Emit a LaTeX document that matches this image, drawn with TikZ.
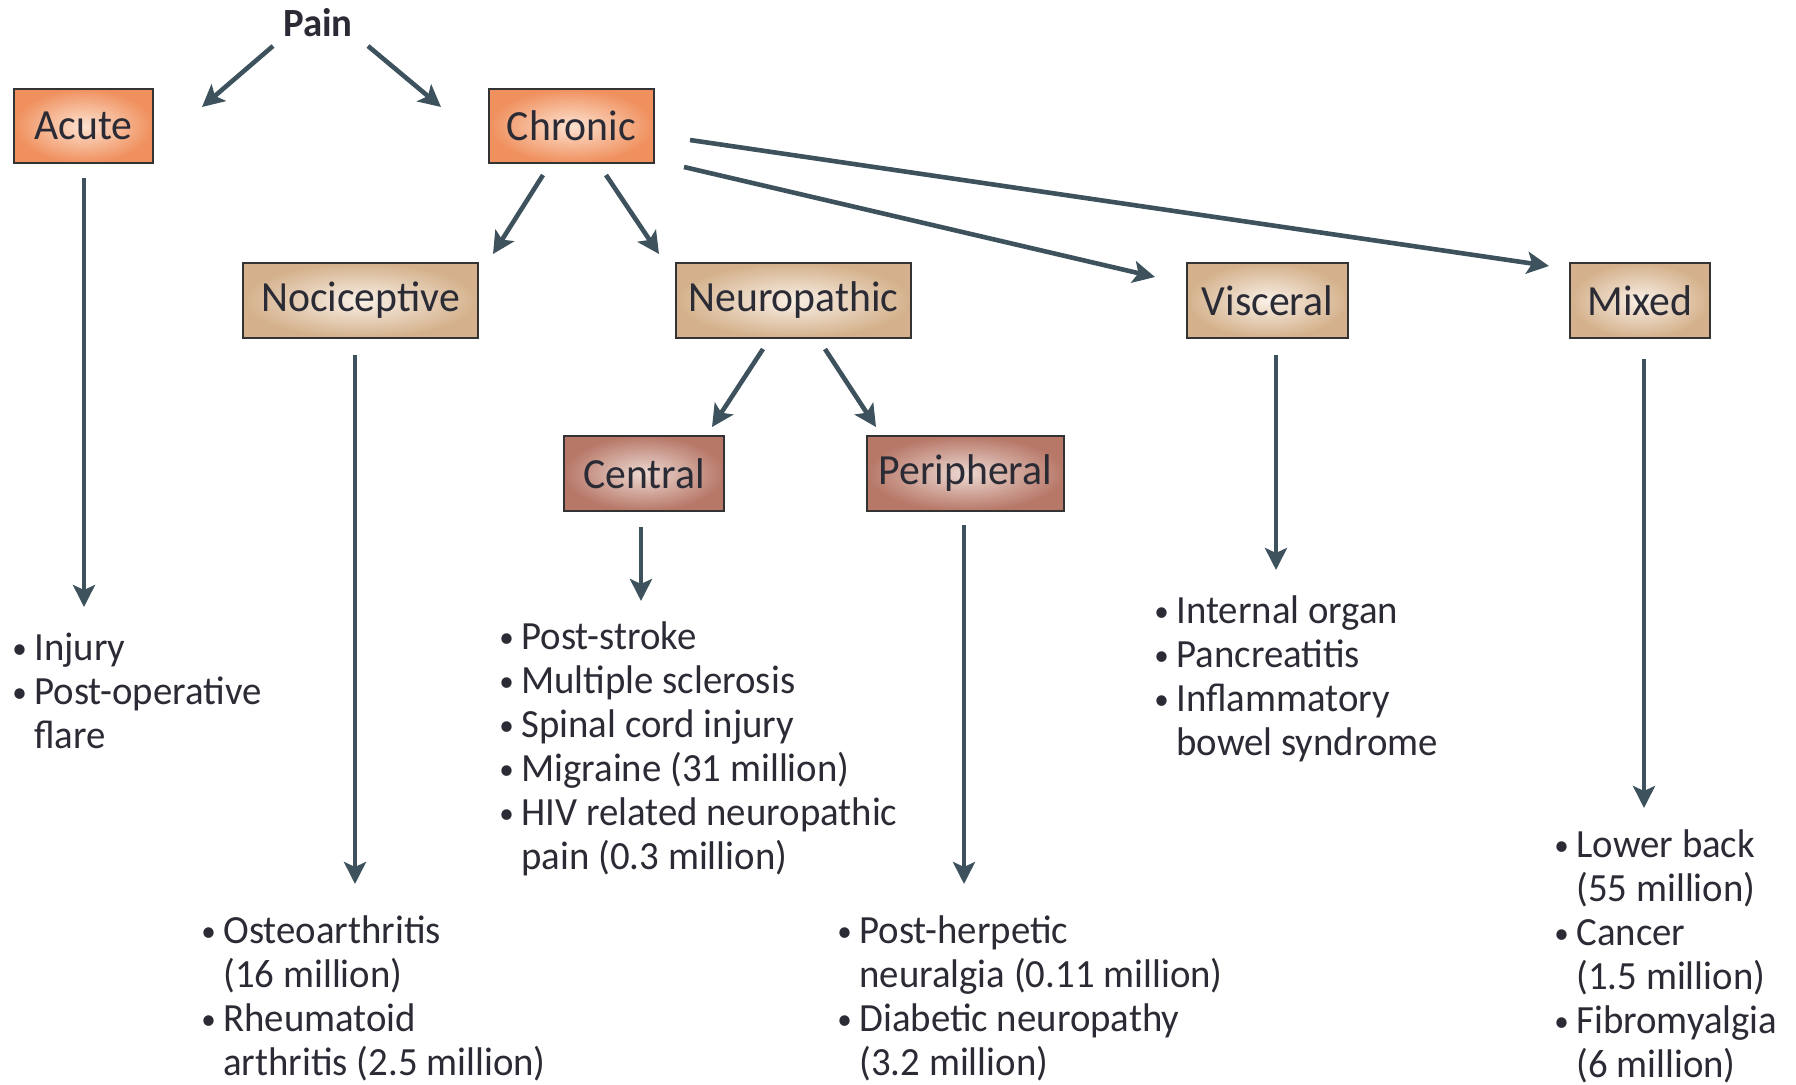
\documentclass[tikz,border=0pt]{standalone}
\usepackage{fontspec}
\setmainfont[FakeStretch=0.97]{Carlito}
\usetikzlibrary{arrows.meta}
\definecolor{arrc}{HTML}{3D525C}
\definecolor{txt}{HTML}{2B2B35}
\definecolor{orO}{HTML}{F0905E}
\definecolor{orI}{HTML}{FCE2D0}
\definecolor{tnO}{HTML}{D4B18C}
\definecolor{tnI}{HTML}{F9F0E6}
\definecolor{mvO}{HTML}{B77868}
\definecolor{mvI}{HTML}{EDD9D2}
\newcommand{\bl}{\makebox[11pt][l]{\raisebox{0.8pt}{\fontsize{15}{15}\selectfont\textbullet}}}
\newcommand{\nb}{\hspace*{11pt}}
\tikzset{
  arr/.style={draw=arrc, line width=2.3pt, -{Stealth[length=11pt,width=11pt,inset=2.5pt]}},
  bx/.style={draw=black!80, line width=0.7pt, shading=radial, inner sep=0pt, font=\fontsize{21.5}{24}\selectfont, text=txt},
  orbox/.style={bx, inner color=orI, outer color=orO},
  tnbox/.style={bx, inner color=tnI, outer color=tnO},
  mvbox/.style={bx, inner color=mvI, outer color=mvO},
  lst/.style={anchor=base west, inner sep=0pt, text=txt, font=\fontsize{20}{22}\selectfont}
}
\begin{document}
\begin{tikzpicture}[x=0.5pt,y=-0.5pt]
\useasboundingbox (0,0) rectangle (1796,1084);
% boxes
\node[font=\fontsize{20}{22}\selectfont\bfseries, text=txt] (pain) at (318,23) {Pain};
\node[orbox, minimum width=69.5pt, minimum height=37pt] (acute) at (83.5,126) {Acute};
\node[orbox, minimum width=82.5pt, minimum height=37pt] (chronic) at (571.5,126) {Chronic};
\node[tnbox, minimum width=117.5pt, minimum height=37.5pt] (noci) at (360.5,300.5) {Nociceptive};
\node[tnbox, minimum width=117.5pt, minimum height=37.5pt] (neuro) at (793.5,300.5) {Neuropathic};
\node[tnbox, minimum width=80.5pt, minimum height=37.5pt] (visc) at (1267.5,300.5) {Visceral};
\node[tnbox, minimum width=70pt, minimum height=37.5pt] (mixed) at (1640,300.5) {Mixed};
\node[mvbox, minimum width=80pt, minimum height=37.5pt] (central) at (644,473.5) {Central};
\node[mvbox, minimum width=98.5pt, minimum height=37.5pt] (periph) at (965.5,473.5) {Peripheral};
% lists
\node[lst] (acuteL) at (12,660) {\begin{tabular}[t]{@{}l@{}}\bl Injury\\ \bl Post-operative\\ \nb flare\end{tabular}};
\node[lst] (nociL) at (201,943) {\begin{tabular}[t]{@{}l@{}}\bl Osteoarthritis\\ \nb (16 million)\\ \bl Rheumatoid\\ \nb arthritis (2.5 million)\end{tabular}};
\node[lst] (centralL) at (499,649) {\begin{tabular}[t]{@{}l@{}}\bl Post-stroke\\ \bl Multiple sclerosis\\ \bl Spinal cord injury\\ \bl Migraine (31 million)\\ \bl HIV related neuropathic\\ \nb pain (0.3 million)\end{tabular}};
\node[lst] (periphL) at (837,943) {\begin{tabular}[t]{@{}l@{}}\bl Post-herpetic\\ \nb neuralgia (0.11 million)\\ \bl Diabetic neuropathy\\ \nb (3.2 million)\end{tabular}};
\node[lst] (viscL) at (1154,623) {\begin{tabular}[t]{@{}l@{}}\bl Internal organ\\ \bl Pancreatitis\\ \bl Inflammatory\\ \nb bowel syndrome\end{tabular}};
\node[lst] (mixedL) at (1554,857) {\begin{tabular}[t]{@{}l@{}}\bl Lower back\\ \nb (55 million)\\ \bl Cancer\\ \nb (1.5 million)\\ \bl Fibromyalgia\\ \nb (6 million)\end{tabular}};
% connector end points
\coordinate (pa1) at (273,46);   \coordinate (pa2) at (202,107);
\coordinate (pc1) at (368,46);   \coordinate (pc2) at (441,107);
\coordinate (ac1) at (84,178);   \coordinate (ac2) at (84,607);
\coordinate (cn1) at (543,175);  \coordinate (cn2) at (493,254);
\coordinate (cu1) at (606,175);  \coordinate (cu2) at (659,254);
\coordinate (cv1) at (684,167);  \coordinate (cv2) at (1155,277);
\coordinate (cm1) at (690,140);  \coordinate (cm2) at (1549,266);
\coordinate (no1) at (355,355);  \coordinate (no2) at (355,884);
\coordinate (nc1) at (763,349);  \coordinate (nc2) at (712,427);
\coordinate (np1) at (825,349);  \coordinate (np2) at (876,427);
\coordinate (ce1) at (641,527);  \coordinate (ce2) at (641,601);
\coordinate (pe1) at (964,525);  \coordinate (pe2) at (964,884);
\coordinate (vi1) at (1276,355); \coordinate (vi2) at (1276,570);
\coordinate (mi1) at (1644,359); \coordinate (mi2) at (1644,808);
\draw[arr] (pa1) -- (pa2);
\draw[arr] (pc1) -- (pc2);
\draw[arr] (ac1) -- (ac2);
\draw[arr] (cn1) -- (cn2);
\draw[arr] (cu1) -- (cu2);
\draw[arr] (cv1) -- (cv2);
\draw[arr] (cm1) -- (cm2);
\draw[arr] (no1) -- (no2);
\draw[arr] (nc1) -- (nc2);
\draw[arr] (np1) -- (np2);
\draw[arr] (ce1) -- (ce2);
\draw[arr] (pe1) -- (pe2);
\draw[arr] (vi1) -- (vi2);
\draw[arr] (mi1) -- (mi2);
\end{tikzpicture}
\end{document}
